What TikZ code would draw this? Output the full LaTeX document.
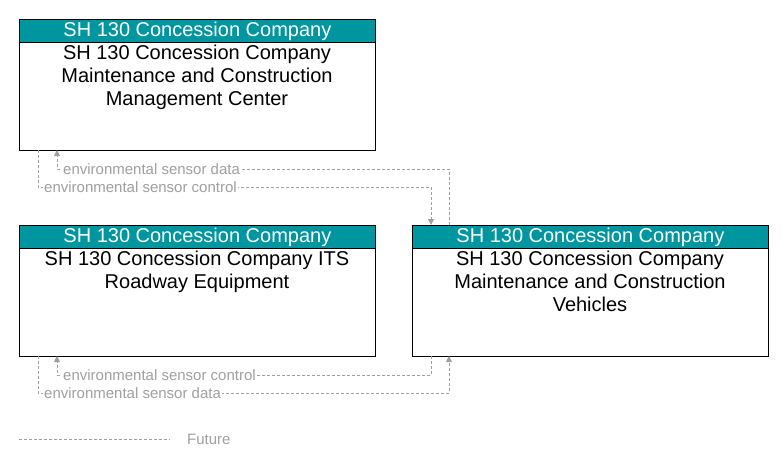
\documentclass[tikz,border=0pt]{standalone}
\usepackage{fontspec}
\setmainfont{Liberation Sans}
\usetikzlibrary{arrows.meta}
\definecolor{hdr}{RGB}{0,150,160}
\definecolor{lnk}{RGB}{160,160,160}
\begin{document}
\begin{tikzpicture}[x=1pt,y=-1pt,
  box/.style={draw=black,line width=0.8pt,minimum width=356pt,minimum height=131pt,anchor=north west},
  hbar/.style={fill=hdr,draw=black,text=white,line width=0.8pt,minimum width=356pt,minimum height=23pt,anchor=north west,inner sep=0pt,font=\fontsize{20}{22}\selectfont},
  body/.style={align=center,anchor=north,font=\fontsize{20}{23}\selectfont,inner sep=0pt},
  flow/.style={draw=lnk,dashed,dash pattern=on 3pt off 2pt,line width=0.8pt,-{Triangle[length=6pt,width=6pt]}},
  lbl/.style={text=lnk,font=\fontsize{15}{16}\selectfont,inner sep=1pt,anchor=west,fill=white}]
\useasboundingbox (0,0) rectangle (783,468);
% boxes
\node[box] (mc) at (19,19) {};
\node[hbar] (mch) at (19,19) {SH 130 Concession Company};
\node[body] (mct) at (197,45) {SH 130 Concession Company\\Maintenance and Construction\\Management Center};
\node[box] (its) at (19,225) {};
\node[hbar] (itsh) at (19,225) {SH 130 Concession Company};
\node[body] (itst) at (197,251) {SH 130 Concession Company ITS\\Roadway Equipment};
\node[box] (mv) at (412,225) {};
\node[hbar] (mvh) at (412,225) {SH 130 Concession Company};
\node[body] (mvt) at (590,251) {SH 130 Concession Company\\Maintenance and Construction\\Vehicles};
% coordinates
\coordinate (a1) at (449,225); \coordinate (a2) at (57,150);
\coordinate (b1) at (38,150); \coordinate (b2) at (431,225);
\coordinate (c1) at (431,356); \coordinate (c2) at (57,356);
\coordinate (d1) at (38,356); \coordinate (d2) at (449,356);
\draw[flow] (a1) |- (57,169) -- (a2);
\draw[flow] (b1) |- (431,187) -- (b2);
\draw[flow] (c1) |- (57,375) -- (c2);
\draw[flow] (d1) |- (449,393) -- (d2);
\node[lbl] (l1) at (62,169) {environmental sensor data};
\node[lbl] (l2) at (43,187) {environmental sensor control};
\node[lbl] (l3) at (62,375) {environmental sensor control};
\node[lbl] (l4) at (43,393) {environmental sensor data};
% legend
\coordinate (f1) at (19,439); \coordinate (f2) at (170,439);
\draw[draw=lnk,dashed,dash pattern=on 3pt off 2pt,line width=0.8pt] (f1) -- (f2);
\node[lbl,fill=none] (fut) at (186,439) {Future};
\end{tikzpicture}
\end{document}
